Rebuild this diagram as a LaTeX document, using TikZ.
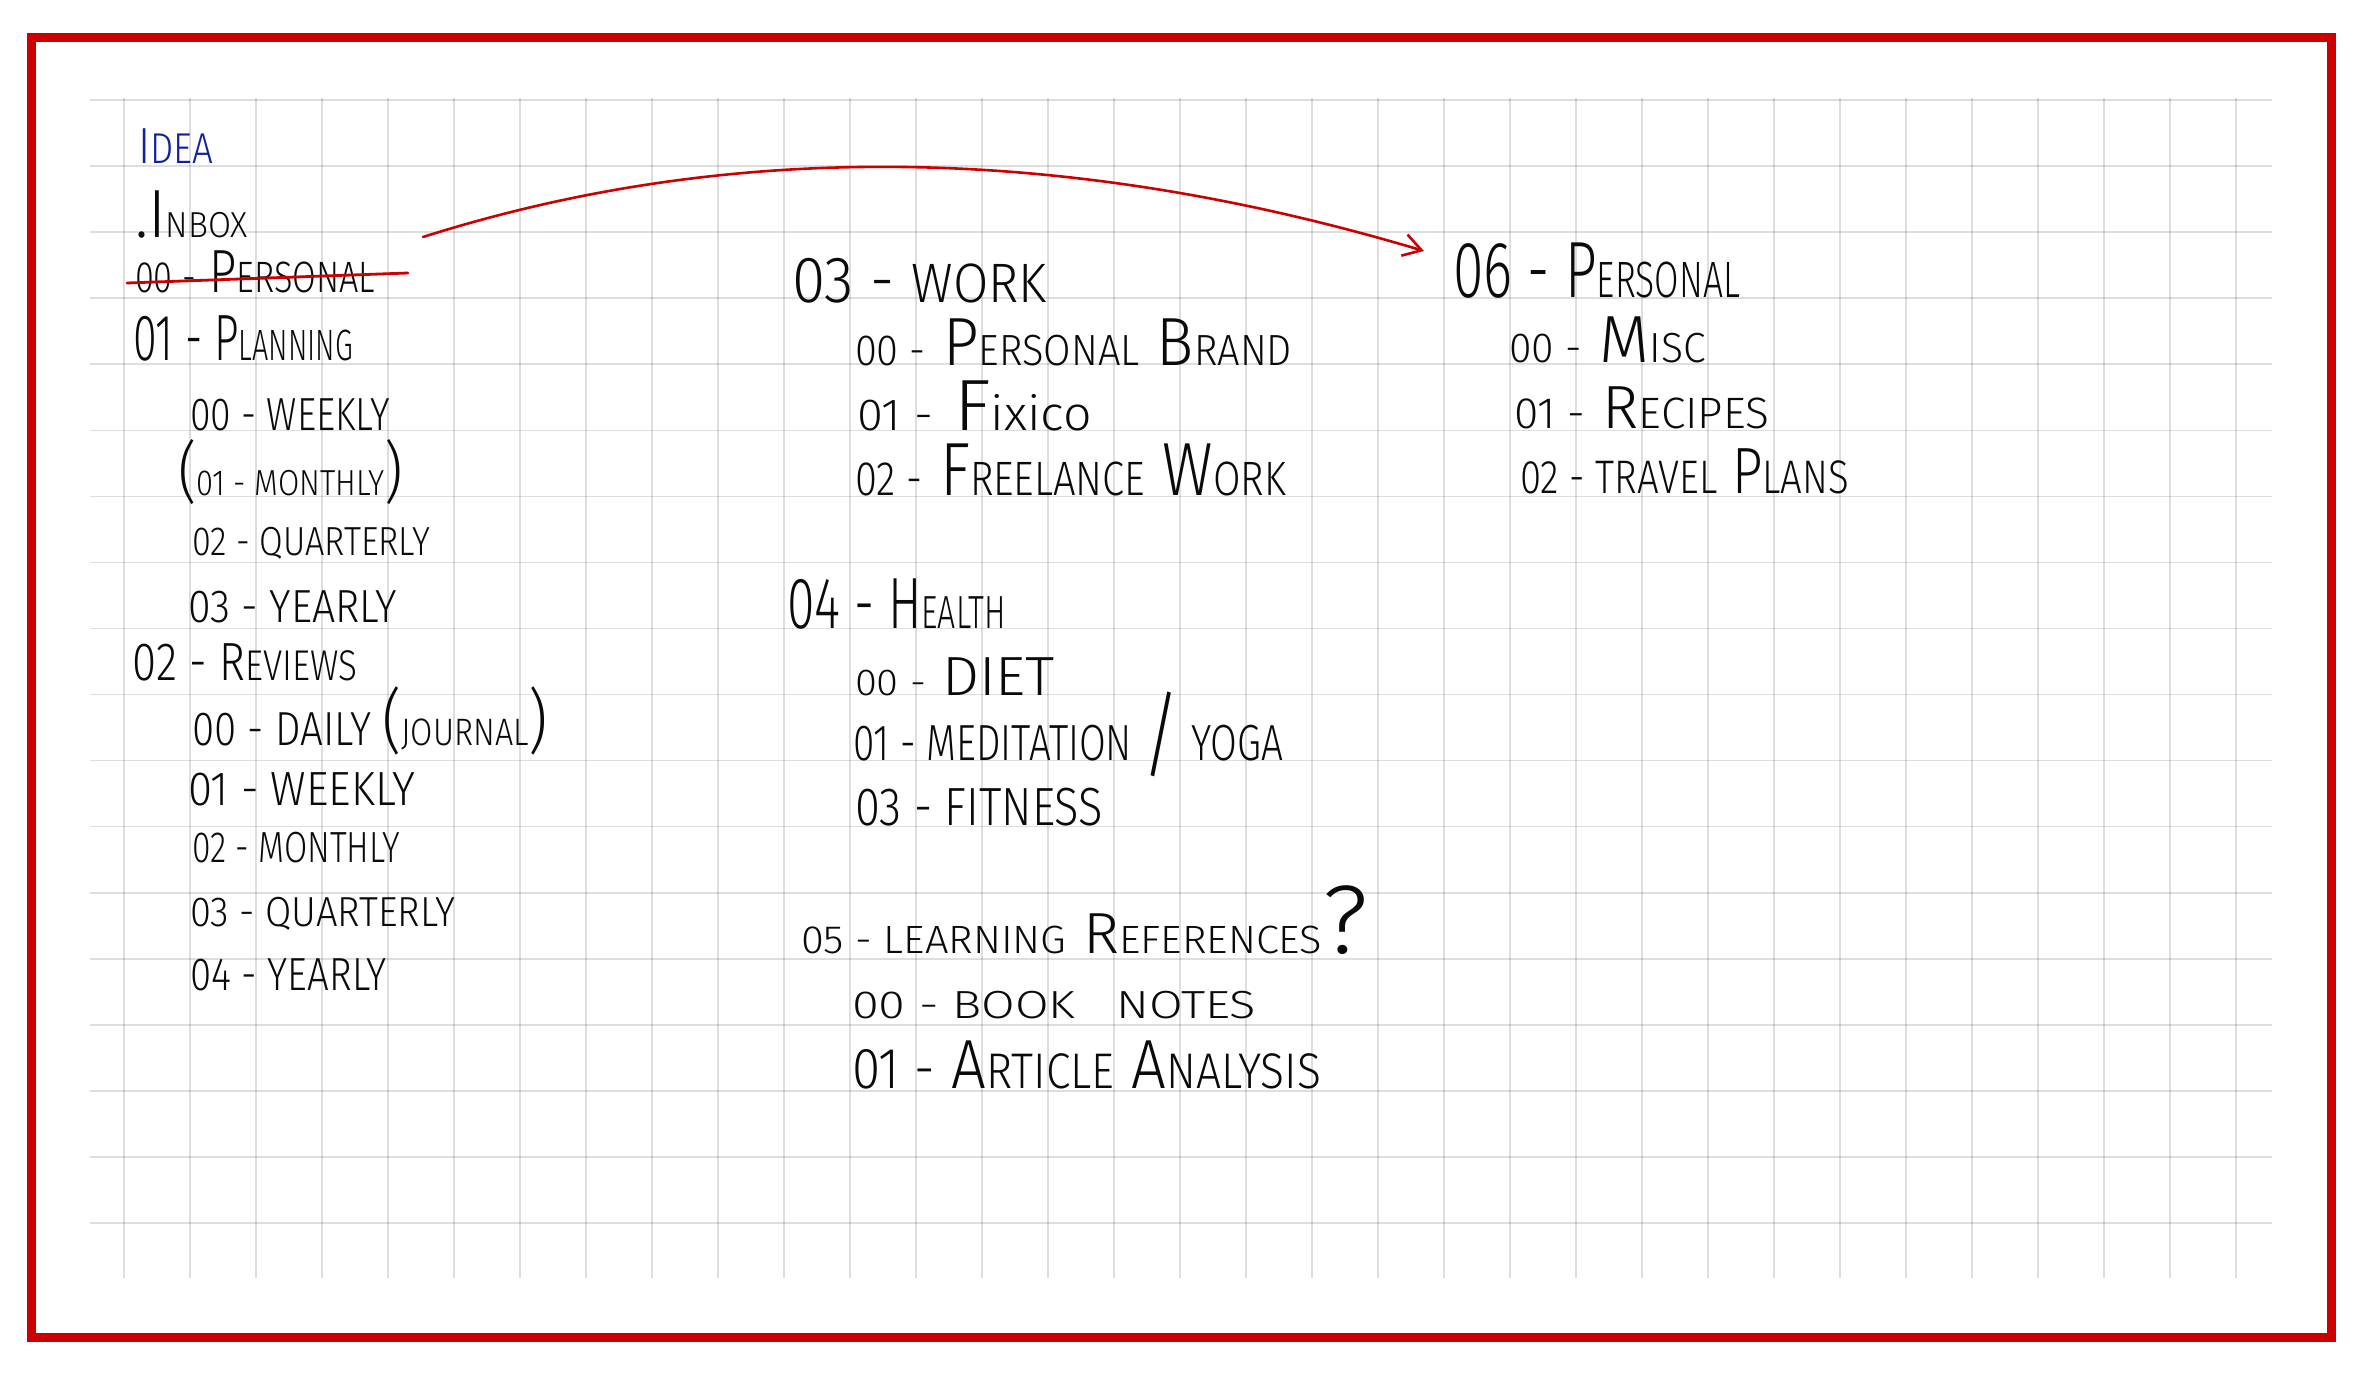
\documentclass[tikz,border=0pt]{standalone}
\usepackage{fontspec}
\setmainfont{Fira Sans}[UprightFont={* Light}]
\usepackage{graphicx}
\usetikzlibrary{arrows.meta}
\definecolor{penred}{RGB}{204,0,0}
\definecolor{penblue}{RGB}{16,32,160}
\definecolor{ink}{RGB}{10,10,10}
\newdimen\pxu \pxu=0.5pt
\def\lcf{0.7}
\newcommand\lc[1]{\scalebox{\lcf}{#1}}
% \hw{font size pt}{width px}{small-letter factor}{text}
\newcommand\hw[4]{\resizebox{#2\pxu}{\height}{\def\lcf{#3}\fontsize{#1pt}{#1pt}\selectfont #4}}
\newcommand\bigp[2]{\scalebox{#1}{#2}}
\tikzset{
  txt/.style={anchor=base west, inner sep=0pt, outer sep=0pt, text=ink},
  gridl/.style={draw=black, opacity=0.13, line width=0.8pt},
  frame/.style={draw=penred, line width=4.5pt, line join=miter},
  redpen/.style={draw=penred, line width=1.4pt, line cap=round}
}
\begin{document}
\begin{tikzpicture}[x=0.5pt,y=-0.5pt]
\useasboundingbox (0,0) rectangle (2362,1377);
% grid
\foreach \k in {0,...,17} \draw[gridl] (90,{100+66.06*\k}) -- (2272,{100+66.06*\k});
\foreach \k in {0,...,32} \draw[gridl] ({124+66*\k},98) -- ({124+66*\k},1278);
% frame
\draw[frame] (31,37) rectangle (2331,1337);

% left column
\node[txt, text=penblue] (idea) at (138,163) {\hw{25.4}{75}{0.85}{I\lc{DEA}}};
\node[txt] (inbox) at (135,237) {\hw{34.1}{113}{0.53}{.I\lc{NBOX}}};
\node[txt] (pers0) at (135,292) {\hw{30.5}{240}{0.72}{\lc{00 -} P\lc{ERSONAL}}};
\node[txt] (plan) at (133,360) {\hw{32.7}{220}{0.67}{01 - P\lc{LANNING}}};
\node[txt] (plan0) at (190,430) {\hw{23.2}{200}{1}{00 - WEEKLY}};
\node[txt] (plan1) at (178,495) {\hw{18.1}{225}{1}{\bigp{1.85}{(}01 - MONTHLY\bigp{1.85}{)}}};
\node[txt] (plan2) at (192,555) {\hw{20.3}{238}{1}{02 - QUARTERLY}};
\node[txt] (plan3) at (188,622) {\hw{23.2}{209}{1}{03 - YEARLY}};
\node[txt] (rev) at (133,680) {\hw{26.9}{224}{0.8}{02 - R\lc{EVIEWS}}};
\node[txt] (rev0) at (192,745) {\hw{23.9}{356}{0.8}{00 - DAILY \bigp{1.47}{(}\lc{JOURNAL}\bigp{1.47}{)}}};
\node[txt] (rev1) at (188,805) {\hw{24}{227}{1}{01 - WEEKLY}};
\node[txt] (rev2) at (192,862) {\hw{21.8}{208}{1}{02 - MONTHLY}};
\node[txt] (rev3) at (190,926) {\hw{21}{265}{1}{03 - QUARTERLY}};
\node[txt] (rev4) at (190,990) {\hw{23.2}{197}{1}{04 - YEARLY}};

% middle column
\node[txt] (work) at (792,302) {\hw{32.7}{255}{0.85}{03 - \lc{WORK}}};
\node[txt] (work0) at (855,365) {\hw{34.1}{437}{0.64}{\lc{00 -} P\lc{ERSONAL} B\lc{RAND}}};
\node[txt] (work1) at (857,430) {\hw{36.3}{235}{0.62}{\lc{01 -} F\scalebox{0.66}{ixico}}};
\node[txt] (work2) at (855,495) {\hw{37.7}{431}{0.64}{\lc{02 -} F\lc{REELANCE} W\lc{ORK}}};
\node[txt] (health) at (787,628) {\hw{36.3}{219}{0.64}{04 - H\lc{EALTH}}};
\node[txt] (health0) at (855,695) {\hw{27.6}{200}{0.68}{\lc{00 -} DIET}};
\node[txt] (health1) at (853,760) {\hw{25.4}{430}{1}{01 - MEDITATION \raisebox{-8.5pt}{\resizebox*{!}{42.5pt}{\raisebox{\depth}{/}}} YOGA}};
\node[txt] (health3) at (855,825) {\hw{26.9}{248}{1}{03 - FITNESS}};
\node[txt] (learn) at (801,953) {\hw{29}{567}{0.68}{\lc{05 - LEARNING} R\lc{EFERENCES}\bigp{1.68}{?}}};
\node[txt] (learn0) at (852,1018) {\hw{19.6}{404}{1}{00 - BOOK~~~NOTES}};
\node[txt] (learn1) at (852,1088) {\hw{34.8}{469}{0.72}{\scalebox{0.83}{01 -} A\lc{RTICLE} A\lc{NALYSIS}}};

% right column
\node[txt] (pers) at (1453,297) {\hw{39.9}{287}{0.64}{06 - P\lc{ERSONAL}}};
\node[txt] (pers0n) at (1509,362) {\hw{33.4}{197}{0.63}{\lc{00 -} M\lc{ISC}}};
\node[txt] (pers1) at (1514,428) {\hw{30.5}{255}{0.72}{\lc{01 -} R\lc{ECIPES}}};
\node[txt] (pers2) at (1520,493) {\hw{32.7}{329}{0.72}{\lc{02 - TRAVEL} P\lc{LANS}}};

% strike-through and move arrow
\coordinate (stS) at (127,283);
\coordinate (stE) at (408,273);
\draw[redpen] (stS) -- (stE);
\coordinate (arrS) at (423,237);
\coordinate (arrE) at (1424,251);
\draw[redpen, line width=1.3pt, -{Straight Barb[length=9pt,width=11pt]}] (arrS) .. controls (732,139) and (1066,144) .. (arrE);
\end{tikzpicture}
\end{document}
